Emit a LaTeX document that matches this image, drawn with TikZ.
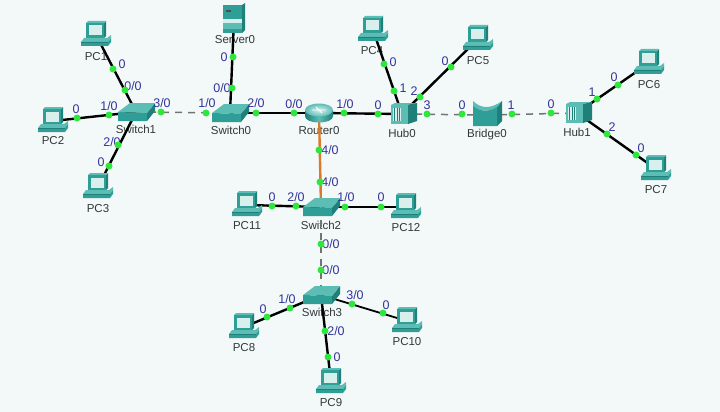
\documentclass[tikz,border=0pt]{standalone}
\usepackage{fontspec}
\setmainfont{Liberation Sans}
\definecolor{bgcol}{HTML}{F3F9F8}
\definecolor{tealA}{HTML}{2E9E96}
\definecolor{tealB}{HTML}{1F7F79}
\definecolor{tealC}{HTML}{5CBDB5}
\definecolor{screencol}{HTML}{D8EFEC}
\definecolor{portcol}{HTML}{33339A}
\definecolor{textcol}{HTML}{303838}
\definecolor{dotcol}{HTML}{2EE63C}
\definecolor{fibercol}{HTML}{D97A2B}
\tikzset{
  dev/.style={inner sep=0pt, minimum size=0pt},
  devlabel/.style={inner sep=0pt, text=textcol, font=\fontsize{11.5}{12}\selectfont},
  portlabel/.style={inner sep=0pt, text=portcol, font=\fontsize{12.5}{12}\selectfont},
  portdot/.style={circle, fill=dotcol, inner sep=0pt, minimum size=7pt},
  link/.style={black, line width=2.4pt},
  dashlink/.style={black!55, line width=1.5pt, dash pattern=on 7pt off 6pt},
  fiber/.style={fibercol, line width=2.4pt},
  pcicon/.pic={
    \fill[tealB] (8,-12) -- (10,-14) -- (10,1) -- (8,3) -- cycle;
    \fill[tealC] (-10,-12) -- (-8,-14) -- (10,-14) -- (8,-12) -- cycle;
    \fill[tealA] (-10,-12) rectangle (8,3);
    \fill[screencol] (-7.5,-9.5) rectangle (5.5,0.5);
    \fill[tealC] (-12,3) -- (11,3) -- (15,0) -- (15,3) -- (12,7) -- (-15,7) -- cycle;
    \fill[tealA] (-15,7) -- (12,7) -- (15,3) -- (15,7) -- (12,11) -- (-15,11) -- cycle;
    \draw[tealB, line width=.6pt] (-15,7) -- (12,7);
  },
  switchicon/.pic={
    \fill[tealA] (-18,0) -- (11,1) -- (11,9) -- (-18,9) -- cycle;
    \fill[tealB] (11,1) -- (19,-9) -- (19,-1) -- (11,9) -- cycle;
    \fill[tealC] (-18,0) -- (-6,-9) -- (19,-9) -- (11,1) -- cycle;
  },
  hubicon/.pic={
    \fill[tealC] (-11,-9) -- (-7,-11) -- (15,-11) -- (6,-9) -- cycle;
    \fill[tealB] (6,-9) -- (15,-11) -- (15,7) -- (6,10) -- cycle;
    \fill[tealC] (-11,-9) rectangle (6,10);
    \fill[screencol] (-9,-6) rectangle (-1,7);
    \foreach \gx in {-7.5,-5,-2.5}
      \draw[tealB, line width=.9pt] (\gx,-6) -- (\gx,7);
  },
  bridgeicon/.pic={
    \fill[tealB] (10,-8) -- (15,-14) -- (15,6) -- (10,11) -- cycle;
    \fill[tealC] (-14,-14) .. controls (-6,-6) and (4,-6) .. (15,-14) -- (10,-8) .. controls (2,-3) and (-6,-3) .. (-14,-9) -- cycle;
    \fill[tealA] (-14,-9) .. controls (-6,-3) and (2,-3) .. (10,-8) -- (10,11) -- (-14,11) -- cycle;
  },
  servericon/.pic={
    \fill[tealB] (8,-14) -- (11,-16) -- (11,11) -- (8,14) -- cycle;
    \fill[tealA] (-11,-14) rectangle (8,14);
    \fill[tealC] (-11,0) rectangle (8,10);
    \fill[screencol] (-11,0) rectangle (8,4);
    \fill[black!70] (-8,-9) rectangle (-3,-7);
  },
  routericon/.pic={
    \shade[left color=tealB, right color=tealB, middle color=tealC] (-14,-3) -- (-14,3) .. controls (-14,7) and (-8,9.5) .. (0,9.5) .. controls (8,9.5) and (14,7) .. (14,3) -- (14,-3) -- cycle;
    \shade[inner color=screencol, outer color=tealC] (0,-3) ellipse[x radius=14, y radius=6.5];
    \draw[white, line width=.9pt] (-7,-3) -- (7,-3) (-3,-6) -- (3,0);
  }
}
\begin{document}
\begin{tikzpicture}[x=1pt, y=-1pt, line cap=butt]
\fill[bgcol] (0,0) rectangle (720,412);
\useasboundingbox (0,0) rectangle (720,412);

% Devices
\foreach \name/\x/\y in {pc1/96/35, pc2/53/121, pc3/98/187, pc4/373/30, pc5/478/39, pc6/649/63,
    pc7/656/169, pc8/244/327, pc9/331/382, pc10/407/321, pc11/247/205, pc12/406/207,
    sw0/230/113, sw1/136/112, sw2/321/207, sw3/321/295, server/234/19, router/319/113,
    hub0/402/114, hub1/577/113, bridge/487/115}
  \node[dev] (\name) at (\x,\y) {};

% Device names
\foreach \name/\x/\y/\txt in {pc1/96/57/PC1, pc2/53/141/PC2, pc3/98/209/PC3, pc4/372/51/PC4,
    pc5/478/61/PC5, pc6/649/85/PC6, pc7/656/190/PC7, pc8/244/348/PC8, pc9/331/403/PC9,
    pc10/407/342/PC10, pc11/247/226/PC11, pc12/406/228/PC12, sw0/231/130/Switch0,
    sw1/136/129/Switch1, sw2/321/225/Switch2, sw3/322/312/Switch3, server/235/40/Server0,
    router/319/131/Router0, hub0/402/133/Hub0, hub1/577/132/Hub1, bridge/487/135/Bridge0}
  \node[devlabel] (\name-label) at (\x,\y) {\txt};

% Links
\draw[link] (pc1) -- (sw1);
\draw[link] (pc2) -- (sw1);
\draw[link] (pc3) -- (sw1);
\draw[link] (server) -- (sw0);
\draw[link] (sw0) -- (router);
\draw[link] (router) -- (hub0);
\draw[link] (pc4) -- (hub0);
\draw[link] (pc5) -- (hub0);
\draw[link] (hub1) -- (pc6);
\draw[link] (hub1) -- (pc7);
\draw[link] (pc11) -- (sw2);
\draw[link] (sw2) -- (pc12);
\draw[link] (pc8) -- (sw3);
\draw[link] (pc9) -- (sw3);
\draw[link, line width=1.8pt] (pc10) -- (sw3);
\draw[fiber] (router) -- (sw2);
\draw[dashlink] (sw1) -- (sw0);
\draw[dashlink] (hub0) -- (bridge);
\draw[dashlink] (bridge) -- (hub1);
\draw[dashlink] (sw2) -- (sw3);

% Icons
\foreach \name in {pc1,pc2,pc3,pc4,pc5,pc6,pc7,pc8,pc9,pc10,pc11,pc12}
  \path (\name) pic {pcicon};
\foreach \name in {sw0,sw1,sw2,sw3}
  \path (\name) pic {switchicon};
\path (server) pic {servericon};
\path (router) pic {routericon};
\path (hub0) pic {hubicon};
\path (hub1) pic {hubicon};
\path (bridge) pic {bridgeicon};

% Ports
\foreach \i/\x/\y/\lx/\ly/\txt in {1/113/69/122/64/0, 2/125/90/133/86/0\slash 0, 3/77/118/76/109/0,
    4/109/115/109/106/1\slash 0, 5/161/112/162/103/3\slash 0, 6/206/113/207/103/1\slash 0,
    7/118/145/112/142/2\slash 0, 8/109/166/101/162/0, 9/233/57/224/57/0, 10/232/88/222/88/0\slash 0,
    11/256/113/256/103/2\slash 0, 12/294/113/294/104/0\slash 0, 13/344/113/345/104/1\slash 0,
    14/378/114/378/105/0, 15/384/64/393/62/0, 16/394/91/403/88/1, 17/451/67/445/61/0,
    18/420/97/414/91/2, 19/427/114/427/105/3, 20/462/114/462/105/0, 21/512/114/511/105/1,
    22/319/150/330/150/4\slash 0, 23/320/182/330/182/4\slash 0, 24/551/113/551/104/0,
    25/597/99/592/92/1, 26/618/85/614/77/0, 27/607/134/612/127/2, 28/636/155/641/148/0,
    29/272/206/272/197/0, 30/296/206/296/197/2\slash 0, 31/345/207/346/197/1\slash 0,
    32/381/207/381/197/0, 33/321/244/331/244/0\slash 0, 34/321/270/331/270/0\slash 0,
    35/290/308/287/299/1\slash 0, 36/267/317/263/309/0, 37/325/331/336/331/2\slash 0,
    38/328/357/337/357/0, 39/352/304/355/295/3\slash 0, 40/383/313/386/305/0}
{
  \node[portlabel] (label\i) at (\lx,\ly) {\txt};
  \node[portdot] (port\i) at (\x,\y) {};
}
\end{tikzpicture}
\end{document}
